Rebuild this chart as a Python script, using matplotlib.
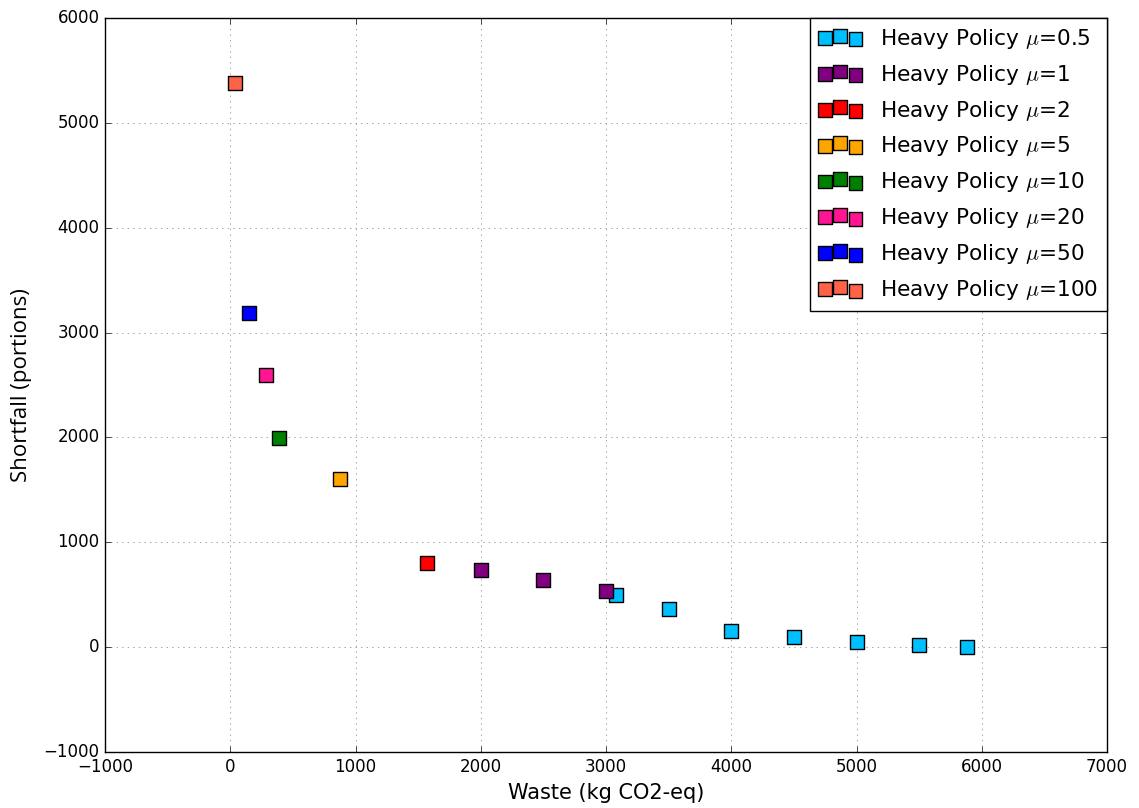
import matplotlib
matplotlib.use("Agg")
import matplotlib.pyplot as plt

plt.style.use('classic')

labels = [r"Heavy Policy $\mu$=0.5", r"Heavy Policy $\mu$=1", r"Heavy Policy $\mu$=2",
          r"Heavy Policy $\mu$=5", r"Heavy Policy $\mu$=10", r"Heavy Policy $\mu$=20",
          r"Heavy Policy $\mu$=50", r"Heavy Policy $\mu$=100"]
colors = ["deepskyblue", "purple", "red", "orange", "green", "deeppink", "blue", "tomato"]

waste_mu05 = [3080, 3500, 4000, 4500, 5000, 5500, 5880]
short_mu05 = [500, 360, 150, 100, 50, 20, 0]
waste_mu1 = [2000, 2500, 3000]
short_mu1 = [740, 640, 540]
waste_mu2 = [1570]
short_mu2 = [800]
waste_mu5 = [875]
short_mu5 = [1600]
waste_mu10 = [387]
short_mu10 = [1990]
waste_mu20 = [283]
short_mu20 = [2600]
waste_mu50 = [148]
short_mu50 = [3190]
waste_mu100 = [36]
short_mu100 = [5380]

wastes = [waste_mu05, waste_mu1, waste_mu2, waste_mu5, waste_mu10, waste_mu20, waste_mu50, waste_mu100]
shorts = [short_mu05, short_mu1, short_mu2, short_mu5, short_mu10, short_mu20, short_mu50, short_mu100]

fig = plt.figure(figsize=(11.39, 8.08), dpi=100, facecolor='white')
ax = fig.add_axes([0.0922, 0.0693, 0.8798, 0.9084])

for w, s, c, l in zip(wastes, shorts, colors, labels):
    ax.scatter(w, s, marker='s', s=100, c=c, edgecolors='black', linewidths=1, label=l, zorder=3)

ax.set_xlim(-1000, 7000)
ax.set_ylim(-1000, 6000)
ax.grid(True, linestyle=':', color='gray')
ax.set_axisbelow(True)
ax.tick_params(labelsize=12)
ax.set_xlabel("Waste (kg CO2-eq)", fontsize=15)
ax.set_ylabel("Shortfall (portions)", fontsize=16, family=['Open Sans', 'DejaVu Sans'], labelpad=8)

leg = ax.legend(loc='upper right', fontsize=15.6, scatterpoints=3, borderaxespad=0.0,
                handlelength=2.0, handletextpad=0.85, labelspacing=0.55,
                scatteryoffsets=[0.45, 0.6, 0.35])
leg.get_frame().set_edgecolor('black')

fig.savefig("out.png", dpi=100, facecolor='white')
